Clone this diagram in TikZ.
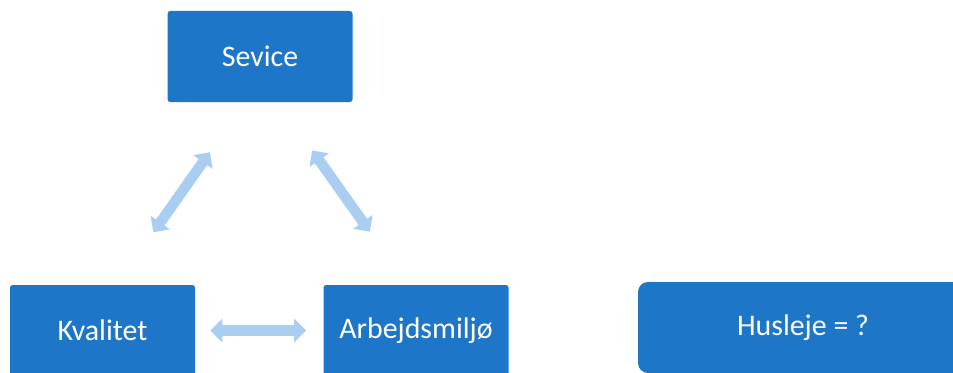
\documentclass[tikz,border=0pt]{standalone}
\usepackage{fontspec}
\setmainfont{Carlito}
\usetikzlibrary{positioning,arrows.meta}

\definecolor{boxblue}{RGB}{30,118,200}
\definecolor{arrowblue}{RGB}{170,205,242}

\begin{document}
\begin{tikzpicture}[
    box/.style={rectangle,rounded corners=1.5pt,fill=boxblue,text=white,minimum width=3.7cm,minimum height=1.82cm,font=\fontsize{17}{20}\selectfont},
    link/.style={draw=arrowblue,line width=0.21cm,{Triangle[width=0.46cm,length=0.24cm]}-{Triangle[width=0.46cm,length=0.24cm]}}
]
\clip (0,0) rectangle (19.06,7.44);

\node[box] (sevice) at (5.2,6.31) {Sevice};
\node[box] (kvalitet) at (2.05,0.83) {Kvalitet};
\node[box] (arbejd) at (8.32,0.83) {Arbejdsmiljø};
\node[box,rounded corners=0.2cm,minimum width=6.6cm] (husleje) at (16.06,0.89) {Husleje = ?};

% the three links between the boxes
\draw[link,shorten <=1.28cm,shorten >=1.22cm] ([xshift=0.28cm]kvalitet.north) -- ([xshift=-0.3cm]sevice.south);
\draw[link,shorten <=1.18cm,shorten >=1.3cm] ([xshift=0.36cm]sevice.south) -- ([xshift=-0.17cm]arbejd.north);
\draw[link,shorten <=0.3cm,shorten >=0.34cm] (kvalitet.east) -- (arbejd.west);
\end{tikzpicture}
\end{document}
